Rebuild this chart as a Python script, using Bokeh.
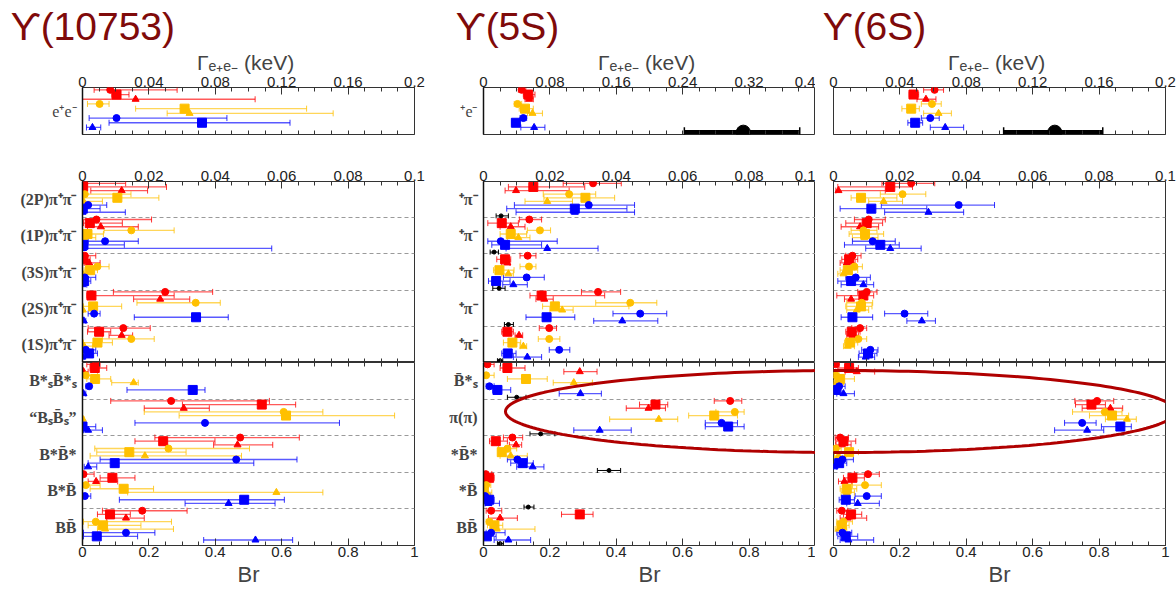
import numpy as np
from bokeh.plotting import figure
from bokeh.layouts import row, column
from bokeh.models import ColumnDataSource, Range1d, FixedTicker, LinearAxis, PolyAnnotation
from bokeh.embed import file_html
from bokeh.resources import INLINE

# every row: (value, low, high) for the nine model series, top to bottom:
# red circle/square/triangle, yellow circle/square/triangle, blue circle/square/triangle
ee_10753 = [[(0.0167, 0.007, 0.057), (0.0205, 0.0177, 0.028), (0.032, 0.0, 0.104),
             (0.0103, 0.003, 0.016), (0.0615, 0.032, 0.135), (0.0645, 0.051, 0.151),
             (0.0205, 0.004, 0.087), (0.072, 0.016, 0.125), (0.006, 0.0024, 0.011)]]

trans_10753 = [
    [(0.0005, 0, 0.013), (0.0002, 0, 0.0253), (0.0118, 0.0025, 0.0196), (0.0007, 0, 0.0146), (0.0105, 0, 0.023),
     (0.0003, 0, 0.006), (0.0017, 0, 0.0073), (0.0001, 0, 0.0053), (0.0, 0, 0.0129)],
    [(0.0042, 0, 0.0208), (0.0022, 0.0003, 0.012), (0.0055, 0.0015, 0.0168), (0.0147, 0.0065, 0.0276),
     (0.0015, 0, 0.0063), (0.0005, 0, 0.004), (0.0068, 0.0017, 0.0168), (0.0003, 0, 0.0126), (0.0002, 0, 0.057)],
    [(0.0007, 0, 0.004), (0.0003, 0, 0.0023), (0.002, 0.0005, 0.0053), (0.0045, 0.001, 0.008),
     (0.0023, 0.0005, 0.0045), (0.0, 0, 0.0005), (0.0007, 0, 0.004), (0.0005, 0, 0.0025), (0.0, 0, 0.0013)],
    [(0.0249, 0.0093, 0.0392), (0.0027, 0.0013, 0.0276), (0.0234, 0.0154, 0.0323), (0.0341, 0.0164, 0.0415),
     (0.0032, 0.0003, 0.0118), (0.0001, 0, 0.0003), (0.0035, 0.0017, 0.0053), (0.0342, 0.0156, 0.0439),
     (0.0004, 0, 0.001)],
    [(0.0123, 0.0017, 0.0204), (0.005, 0.0015, 0.0085), (0.0118, 0.008, 0.0151), (0.0147, 0.006, 0.0216),
     (0.0045, 0.0003, 0.009), (0.0005, 0, 0.003), (0.001, 0, 0.004), (0.002, 0.0003, 0.0045), (0.0, 0, 0.0005)],
]

bb_10753 = [
    [(0.04, 0.013, 0.053), (0.037, 0.023, 0.073), (0.003, 0, 0.017), (0.01, 0, 0.045), (0.038, 0.013, 0.085),
     (0.154, 0.088, 0.168), (0.02, 0.01, 0.027), (0.332, 0.134, 0.369), (0.003, 0, 0.01)],
    [(0.267, 0.085, 0.563), (0.54, 0.301, 0.642), (0.305, 0.186, 0.382), (0.606, 0.186, 0.724),
     (0.613, 0.291, 0.94), (0.001, 0, 0.005), (0.369, 0.158, 0.774), (0.0, 0, 0.04), (0.017, 0.003, 0.06)],
    [(0.475, 0.218, 0.653), (0.243, 0.158, 0.399), (0.467, 0.395, 0.573), (0.259, 0.037, 0.503),
     (0.141, 0.043, 0.312), (0.188, 0.023, 0.479), (0.463, 0.053, 0.646), (0.097, 0.017, 0.516),
     (0.017, 0.005, 0.043)],
    [(0.003, 0, 0.035), (0.09, 0.053, 0.158), (0.041, 0.017, 0.106), (0.01, 0, 0.053), (0.124, 0.023, 0.214),
     (0.584, 0.136, 0.724), (0.007, 0, 0.025), (0.487, 0.111, 0.608), (0.44, 0.309, 0.58)],
    [(0.18, 0.06, 0.315), (0.083, 0.045, 0.144), (0.131, 0.073, 0.186), (0.04, 0.003, 0.268),
     (0.062, 0.017, 0.176), (0.068, 0.045, 0.274), (0.131, 0.003, 0.218), (0.043, 0.003, 0.166),
     (0.521, 0.365, 0.633)],
]

ee_5s = [[(0.046, 0.042, 0.051), (0.054, 0.048, 0.062), (0.055, 0.05, 0.06), (0.041, 0.037, 0.046),
          (0.05, 0.043, 0.06), (0.059, 0.053, 0.071), (0.048, 0.044, 0.052), (0.039, 0.034, 0.043),
          (0.061, 0.045, 0.074)]]
exp_ee_5s = [(0.313, 0.242, 0.381)]

trans_5s = [
    [(0.033, 0.024, 0.0415), (0.015, 0.0075, 0.0305), (0.0098, 0.0065, 0.0258), (0.0258, 0.018, 0.0338),
     (0.0307, 0.0182, 0.0395), (0.0192, 0.0125, 0.0268), (0.0317, 0.0093, 0.0455), (0.0275, 0.007, 0.0432),
     (0.0275, 0.0098, 0.0455)],
    [(0.0138, 0.0108, 0.0175), (0.0055, 0.0013, 0.0105), (0.0082, 0.005, 0.0125), (0.017, 0.0132, 0.0202),
     (0.0082, 0.005, 0.013), (0.0105, 0.0072, 0.014), (0.0052, 0.0013, 0.0222), (0.0065, 0.0025, 0.0175),
     (0.0192, 0.0068, 0.0345)],
    [(0.0133, 0.011, 0.0158), (0.0065, 0.004, 0.0082), (0.0072, 0.0055, 0.008), (0.0137, 0.011, 0.0158),
     (0.0048, 0.003, 0.0092), (0.0075, 0.0055, 0.009), (0.013, 0.006, 0.0183), (0.0038, 0.0015, 0.008),
     (0.009, 0.0058, 0.0132)],
    [(0.0345, 0.0295, 0.0413), (0.0175, 0.014, 0.0365), (0.0183, 0.0158, 0.021), (0.0442, 0.0338, 0.0522),
     (0.0215, 0.0178, 0.0438), (0.0237, 0.02, 0.027), (0.0472, 0.039, 0.0552), (0.019, 0.0128, 0.0275),
     (0.0418, 0.0332, 0.0525)],
    [(0.0198, 0.0168, 0.022), (0.0072, 0.0055, 0.009), (0.0107, 0.0095, 0.0118), (0.0198, 0.0165, 0.023),
     (0.0087, 0.006, 0.0112), (0.012, 0.011, 0.013), (0.0228, 0.0198, 0.026), (0.0073, 0.0055, 0.0098),
     (0.0132, 0.009, 0.0175)],
]
exp_trans_5s = [(0.0053, 0.0038, 0.0075), (0.0032, 0.002, 0.0045), (0.0047, 0.0028, 0.0065),
                (0.0075, 0.0063, 0.009), (0.005, 0.0042, 0.0058)]

bb_5s = [
    [(0.012, 0.005, 0.032), (0.072, 0.05, 0.125), (0.29, 0.242, 0.342), (0.008, 0, 0.032), (0.128, 0.072, 0.192),
     (0.272, 0.21, 0.328), (0.018, 0.008, 0.032), (0.042, 0.028, 0.082), (0.292, 0.228, 0.355)],
    [(0.743, 0.695, 0.778), (0.518, 0.47, 0.555), (0.497, 0.43, 0.548), (0.757, 0.7, 0.785),
     (0.695, 0.618, 0.765), (0.528, 0.38, 0.585), (0.717, 0.668, 0.765), (0.737, 0.668, 0.785),
     (0.35, 0.272, 0.445)],
    [(0.087, 0.06, 0.118), (0.037, 0.018, 0.072), (0.098, 0.078, 0.115), (0.072, 0.045, 0.1),
     (0.055, 0.045, 0.082), (0.082, 0.05, 0.132), (0.102, 0.072, 0.132), (0.118, 0.082, 0.15),
     (0.148, 0.1, 0.182)],
    [(0.007, 0, 0.025), (0.017, 0.008, 0.032), (0.002, 0, 0.015), (0.008, 0, 0.022), (0.0, 0, 0.015),
     (0.01, 0, 0.025), (0.005, 0, 0.02), (0.017, 0.002, 0.032), (0.015, 0.005, 0.048)],
    [(0.023, 0.008, 0.055), (0.29, 0.235, 0.33), (0.05, 0.015, 0.102), (0.018, 0.008, 0.042),
     (0.033, 0.012, 0.058), (0.04, 0.02, 0.155), (0.023, 0.008, 0.065), (0.01, 0.002, 0.038),
     (0.075, 0.032, 0.142)],
]
exp_bb_5s = [(0.1, 0.072, 0.128), (0.172, 0.14, 0.215), (0.378, 0.343, 0.413), (0.135, 0.122, 0.152),
             (0.05, 0.042, 0.06)]

ee_6s = [[(0.0609, 0.0543, 0.0663), (0.0482, 0.0456, 0.0513), (0.0557, 0.0503, 0.0617), (0.0593, 0.0529, 0.0649),
          (0.0468, 0.0412, 0.0517), (0.0633, 0.0543, 0.071), (0.0583, 0.0529, 0.0637), (0.0492, 0.0448, 0.0537),
          (0.0673, 0.0583, 0.0784)]]
exp_ee_6s = [(0.1333, 0.1025, 0.1622)]

trans_6s = [
    [(0.0234, 0.0146, 0.0305), (0.0171, 0.0013, 0.0238), (0.0015, 0.0007, 0.0156), (0.0208, 0.0141, 0.0278),
     (0.0083, 0.0053, 0.0191), (0.0151, 0.0106, 0.0208), (0.0377, 0.0144, 0.0485), (0.0114, 0.002, 0.0281),
     (0.0286, 0.0154, 0.0392)],
    [(0.0106, 0.0063, 0.0156), (0.01, 0.0037, 0.0148), (0.008, 0.0023, 0.0136), (0.009, 0.0053, 0.0131),
     (0.0095, 0.0047, 0.0151), (0.0093, 0.0057, 0.0134), (0.0118, 0.0057, 0.0186), (0.0141, 0.0033, 0.0198),
     (0.0171, 0.0097, 0.0264)],
    [(0.0057, 0.0037, 0.0083), (0.0047, 0.0025, 0.0073), (0.004, 0.002, 0.0065), (0.0063, 0.004, 0.0087),
     (0.0043, 0.002, 0.0073), (0.003, 0.0013, 0.0057), (0.0067, 0.0037, 0.0111), (0.0053, 0.0013, 0.01),
     (0.009, 0.0023, 0.0121)],
    [(0.01, 0.0073, 0.0131), (0.009, 0.001, 0.0121), (0.0053, 0.0033, 0.008), (0.0085, 0.004, 0.0118),
     (0.0083, 0.0037, 0.0116), (0.007, 0.004, 0.0106), (0.0214, 0.0154, 0.0284), (0.0057, 0.0023, 0.0118),
     (0.0266, 0.0221, 0.0307)],
    [(0.008, 0.0055, 0.01), (0.0055, 0.0037, 0.008), (0.0057, 0.004, 0.0075), (0.0075, 0.0055, 0.01),
     (0.005, 0.0033, 0.0073), (0.0043, 0.003, 0.0063), (0.0111, 0.0085, 0.0134), (0.0104, 0.0077, 0.0131),
     (0.0097, 0.0075, 0.0124)],
]

bb_6s = [
    [(0.007, 0, 0.017), (0.047, 0.013, 0.075), (0.07, 0.035, 0.124), (0.007, 0, 0.017), (0.02, 0.003, 0.063),
     (0.01, 0, 0.03), (0.017, 0.005, 0.035), (0.007, 0, 0.023), (0.03, 0.01, 0.063)],
    [(0.794, 0.727, 0.844), (0.777, 0.729, 0.819), (0.834, 0.749, 0.871), (0.817, 0.72, 0.869),
     (0.839, 0.771, 0.889), (0.884, 0.819, 0.912), (0.749, 0.696, 0.791), (0.864, 0.807, 0.897),
     (0.764, 0.666, 0.814)],
    [(0.02, 0.005, 0.045), (0.03, 0.007, 0.067), (0.025, 0.007, 0.053), (0.007, 0, 0.023), (0.047, 0.015, 0.075),
     (0.015, 0.003, 0.037), (0.027, 0.01, 0.06), (0.017, 0.005, 0.04), (0.003, 0, 0.01)],
    [(0.104, 0.063, 0.138), (0.057, 0.03, 0.093), (0.033, 0.015, 0.055), (0.095, 0.057, 0.144),
     (0.04, 0.02, 0.07), (0.04, 0.023, 0.063), (0.1, 0.065, 0.144), (0.037, 0.017, 0.063), (0.073, 0.04, 0.138)],
    [(0.025, 0.01, 0.043), (0.053, 0.03, 0.085), (0.043, 0.02, 0.1), (0.03, 0.01, 0.057), (0.025, 0.01, 0.047),
     (0.017, 0.005, 0.04), (0.027, 0.01, 0.055), (0.037, 0.013, 0.073), (0.045, 0.02, 0.121)],
]

# texts
titles = ["ϒ(10753)", "ϒ(5S)", "ϒ(6S)"]
width_label = "Γₑ₊ₑ₋  (keV)"
br_label = "Br"
ee_labels_left = ["e⁺e⁻"]
ee_labels_mid = ["⁺e⁻"]
trans_labels_left = ["(2P)π⁺π⁻", "(1P)π⁺π⁻", "(3S)π⁺π⁻", "(2S)π⁺π⁻", "(1S)π⁺π⁻"]
bb_labels_left = ["B*ₛB̄*ₛ", "“BₛB̄ₛ”", "B*B̄*", "B*B̄", "BB̄"]
trans_labels_mid = ["⁺π⁻", "⁺π⁻", "⁺π⁻", "⁺π⁻", "⁺π⁻"]
bb_labels_mid = ["B̄*ₛ", "π(π)", "*B̄*", "*B̄", "BB̄"]

ee_ticks_a = [0, 0.04, 0.08, 0.12, 0.16, 0.2]
ee_tick_labels_a = ["0", "0.04", "0.08", "0.12", "0.16", "0.2"]
ee_ticks_b = [0, 0.08, 0.16, 0.24, 0.32, 0.4]
ee_tick_labels_b = ["0", "0.08", "0.16", "0.24", "0.32", "0.4"]
trans_ticks = [0, 0.02, 0.04, 0.06, 0.08, 0.1]
trans_tick_labels = ["0", "0.02", "0.04", "0.06", "0.08", "0.1"]
br_ticks = [0, 0.2, 0.4, 0.6, 0.8, 1.0]
br_tick_labels = ["0", "0.2", "0.4", "0.6", "0.8", "1"]

# styles
SANS = "Liberation Sans"
SERIF = "Liberation Serif"
DARK_RED = "#7f0a0a"
SERIES_COLORS = ["#ff0000"] * 3 + ["#ffc000"] * 3 + ["#0000ff"] * 3
SERIES_MARKERS = ["circle", "square", "triangle"] * 3
SERIES_SIZES = [7, 9, 7] * 3
FRAME_W = 332


def make_fig(xmax, ticks, tick_labels, minor, nrows, row_labels, frame_h, borders, label_side, bold=True):
    bl, br, bt, bb = borders
    p = figure(frame_width=FRAME_W, frame_height=frame_h,
               x_range=Range1d(0, xmax), y_range=Range1d(nrows + 0.5, 0.5),
               x_axis_location=None, y_axis_location="left" if row_labels else None,
               min_border_left=bl, min_border_right=br, min_border_top=bt, min_border_bottom=bb,
               toolbar_location=None, output_backend="svg")
    p.outline_line_color = "#333333"
    p.border_fill_color = None
    minor_ticks = list(np.arange(0, xmax + 1e-9, minor))
    for side in ("above", "below"):
        if side == label_side:
            ax = LinearAxis(ticker=FixedTicker(ticks=ticks, minor_ticks=minor_ticks))
            ax.major_label_overrides = dict(zip(ticks, tick_labels))
            ax.major_label_text_font = SANS
            ax.major_label_text_font_size = "15px"
            ax.major_label_text_color = "#222222"
            ax.major_label_standoff = 1
        else:
            # tick marks only on the opposite edge
            ax = LinearAxis(ticker=FixedTicker(ticks=[], minor_ticks=minor_ticks))
            ax.major_label_standoff = 0
        ax.axis_line_color = None
        ax.major_tick_in, ax.major_tick_out = 7, 0
        ax.minor_tick_in, ax.minor_tick_out = 4, 0
        ax.major_tick_line_color = "#333333"
        ax.minor_tick_line_color = "#333333"
        p.add_layout(ax, side)
    p.xgrid.visible = False
    if nrows > 1:
        p.ygrid.ticker = FixedTicker(ticks=[i + 0.5 for i in range(1, nrows)])
        p.ygrid.grid_line_color = "#9a9a9a"
        p.ygrid.grid_line_dash = "4 3"
    else:
        p.ygrid.visible = False
    if row_labels:
        ya = p.yaxis[0]
        ya.ticker = FixedTicker(ticks=list(range(1, nrows + 1)))
        ya.major_label_overrides = {i + 1: lab for i, lab in enumerate(row_labels)}
        ya.major_tick_in = ya.major_tick_out = 0
        ya.minor_tick_in = ya.minor_tick_out = 0
        ya.axis_line_color = "#111111"
        ya.axis_line_width = 1.5
        ya.major_label_text_font = SERIF
        ya.major_label_text_font_style = "bold" if bold else "normal"
        ya.major_label_text_font_size = "16px"
        ya.major_label_standoff = 6
    return p


def add_points(p, rows, expt=None, big=False):
    d = dict(x=[], y=[], lo=[], hi=[], c=[], m=[], s=[])
    for r, pts in enumerate(rows):
        for k, (v, lo, hi) in enumerate(pts):
            d["x"].append(v)
            d["y"].append(r + 0.5 + (k + 0.5) / 10)
            d["lo"].append(lo)
            d["hi"].append(hi)
            d["c"].append(SERIES_COLORS[k])
            d["m"].append(SERIES_MARKERS[k])
            d["s"].append(SERIES_SIZES[k])
    src = ColumnDataSource(d)
    p.segment(x0="lo", y0="y", x1="hi", y1="y", line_color="c", line_alpha=0.65, line_width=1.3, source=src)
    for cap in ("lo", "hi"):
        p.scatter(x=cap, y="y", marker="dash", angle=np.pi / 2, size=6, line_color="c",
                  line_alpha=0.8, source=src)
    p.scatter(x="x", y="y", marker="m", size="s", fill_color="c", line_color="c", source=src)
    if expt:
        e = dict(x=[v for v, _, _ in expt], lo=[lo for _, lo, _ in expt], hi=[hi for _, _, hi in expt],
                 y=[r + 0.5 + 9.5 / 10 for r in range(len(expt))])
        esrc = ColumnDataSource(e)
        lw, sz, cap = (4.5, 14, 10) if big else (1, 4, 5)
        p.segment(x0="lo", y0="y", x1="hi", y1="y", line_color="black", line_width=lw, source=esrc)
        for c in ("lo", "hi"):
            p.scatter(x=c, y="y", marker="dash", angle=np.pi / 2, size=cap, line_color="black",
                      line_width=1.5 if big else 1, source=esrc)
        p.scatter(x="x", y="y", size=sz, color="black", source=esrc)


def add_header(p, title, title_offset):
    p.title.text = title
    p.title.text_font = SANS
    p.title.text_font_size = "39px"
    p.title.text_font_style = "normal"
    p.title.text_color = DARK_RED
    p.title.align = "left"
    p.title.offset = title_offset
    p.title.standoff = 0
    ax = p.above[0]
    ax.axis_label = width_label
    ax.axis_label_text_font = SANS
    ax.axis_label_text_font_style = "normal"
    ax.axis_label_text_font_size = "21px"
    ax.axis_label_standoff = 0


def add_ellipse(p, frame_left_px, frame_top_px, row_px):
    # highlight ring, given in page pixels and mapped into this panel's data space
    cx, cy, a, b = 840.0, 411.0, 335.0, 41.0
    t = np.linspace(0, 2 * np.pi, 240)
    xs = (cx + a * np.cos(t) - frame_left_px) / FRAME_W
    ys = 0.5 + (cy + b * np.sin(t) - frame_top_px) / row_px
    p.add_layout(PolyAnnotation(xs=list(xs), ys=list(ys), fill_alpha=0, line_color="#b00000",
                                line_alpha=1.0, line_width=3))


EE_H, TR_H, BB_H = 47, 181, 183
specs = [
    # (border left, border right, title offset, ee ticks, ee tick labels, ee max, ee minor step, ee row labels,
    #  transition row labels, B row labels, data..., frame left on page)
    (82, 12, -72, ee_ticks_a, ee_tick_labels_a, 0.2, 0.01, ee_labels_left,
     trans_labels_left, bb_labels_left, ee_10753, trans_10753, bb_10753, None, None, None, 82),
    (57, 0, -28, ee_ticks_b, ee_tick_labels_b, 0.4, 0.02, ee_labels_mid,
     trans_labels_mid, bb_labels_mid, ee_5s, trans_5s, bb_5s, exp_ee_5s, exp_trans_5s, exp_bb_5s, 483),
    (18, 11, -11, ee_ticks_a, ee_tick_labels_a, 0.2, 0.01, None,
     None, None, ee_6s, trans_6s, bb_6s, exp_ee_6s, None, None, 833),
]
cols = []
for i, (bl, br, toff, et, etl, emax, eminor, eel, trl, bbl, ee, tr, bb, xee, xtr, xbb, fl) in enumerate(specs):
    pe = make_fig(emax, et, etl, eminor, 1, eel, EE_H, (bl, br, 87, 8), "above", bold=False)
    add_points(pe, ee, xee, big=True)
    add_header(pe, titles[i], toff)
    pt = make_fig(0.1, trans_ticks, trans_tick_labels, 0.005, 5, trl, TR_H, (bl, br, 39, 0), "above")
    add_points(pt, tr, xtr)
    pb = make_fig(1.0, br_ticks, br_tick_labels, 0.05, 5, bbl, BB_H, (bl, br, 0, 47), "below")
    add_points(pb, bb, xbb)
    xa = pb.below[0]
    xa.axis_label = br_label
    xa.axis_label_text_font = SANS
    xa.axis_label_text_font_style = "normal"
    xa.axis_label_text_font_size = "22px"
    xa.axis_label_standoff = 2
    if i > 0:
        add_ellipse(pb, fl, 362, BB_H / 5)
    cols.append(column(pe, pt, pb))

p = row(*cols)
open("out.html", "w").write(file_html(p, INLINE))
